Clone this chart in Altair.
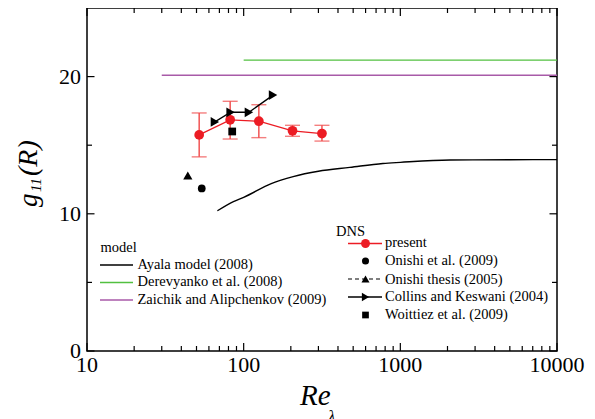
import altair as alt
import pandas as pd

FONT = "Liberation Serif"

# ---------------- data ----------------
ayala_re = [68, 86, 100, 150, 207, 300, 476, 774, 1000, 2075, 5000, 10000]
ayala_g = [10.22, 10.89, 11.2, 12.2, 12.71, 13.1, 13.38, 13.67, 13.75, 13.92, 13.94, 13.95]

dere_re = [100, 10000]
dere_g = [21.2, 21.2]

zaich_re = [30, 10000]
zaich_g = [20.1, 20.1]

present_re = [52, 82, 125, 205, 316]
present_g = [15.75, 16.85, 16.75, 16.05, 15.85]
present_hi = [17.35, 18.2, 17.95, 16.45, 16.45]
present_lo = [14.15, 15.45, 15.55, 15.65, 15.3]

onishi09_re = [54]
onishi09_g = [11.85]

onishi05_re = [44]
onishi05_g = [12.8]

collins_re = [65.5, 82.5, 108, 154]
collins_g = [16.7, 17.4, 17.4, 18.65]

woit_re = [84.5]
woit_g = [16.0]

x_major = [10, 100, 1000, 10000]
x_labels = ["10", "100", "1000", "10000"]
x_minor = [20, 30, 40, 50, 60, 70, 80, 90,
           200, 300, 400, 500, 600, 700, 800, 900,
           2000, 3000, 4000, 5000, 6000, 7000, 8000, 9000]
y_major = [0, 10, 20]
y_labels = ["0", "10", "20"]
y_minor = [5, 15]

# ---------------- chart ----------------
W, H = 470, 343
RED = "#ec1c24"
ERR = "#f04848"
GREEN = "#52c040"
PURPLE = "#a85aa8"

xs = alt.Scale(type="log", domain=[10, 10000], nice=False)
ys = alt.Scale(domain=[0, 25], nice=False, zero=False)


def df(x, y, **extra):
    d = {"re": x, "g": y}
    d.update(extra)
    return pd.DataFrame(d)


def X(field="re"):
    return alt.X(f"{field}:Q", scale=xs, axis=None)


def Y(field="g"):
    return alt.Y(f"{field}:Q", scale=ys, axis=None)


ayala = alt.Chart(df(ayala_re, ayala_g)).mark_line(
    color="black", strokeWidth=1.4, interpolate="monotone").encode(x=X(), y=Y())
dere = alt.Chart(df(dere_re, dere_g)).mark_line(color=GREEN, strokeWidth=1.4).encode(x=X(), y=Y())
zaich = alt.Chart(df(zaich_re, zaich_g)).mark_line(color=PURPLE, strokeWidth=1.6).encode(x=X(), y=Y())

pdf = df(present_re, present_g, hi=present_hi, lo=present_lo)
err = alt.Chart(pdf).mark_rule(color=ERR, strokeWidth=1.4).encode(x=X(), y=Y("lo"), y2="hi:Q")
cap_hi = alt.Chart(pdf).mark_tick(color=ERR, orient="horizontal", size=15, thickness=1.4).encode(
    x=X(), y=Y("hi"))
cap_lo = alt.Chart(pdf).mark_tick(color=ERR, orient="horizontal", size=15, thickness=1.4).encode(
    x=X(), y=Y("lo"))
pline = alt.Chart(pdf).mark_line(color=RED, strokeWidth=1.3).encode(x=X(), y=Y())
ppts = alt.Chart(pdf).mark_point(color=RED, filled=True, opacity=1, size=95, shape="circle").encode(
    x=X(), y=Y())

on09 = alt.Chart(df(onishi09_re, onishi09_g)).mark_point(
    color="black", filled=True, opacity=1, size=60, shape="circle").encode(x=X(), y=Y())
on05 = alt.Chart(df(onishi05_re, onishi05_g)).mark_point(
    color="black", filled=True, opacity=1, size=85, shape="triangle-up").encode(x=X(), y=Y())
cline = alt.Chart(df(collins_re, collins_g)).mark_line(color="black", strokeWidth=1.3).encode(
    x=X(), y=Y())
cpts = alt.Chart(df(collins_re, collins_g)).mark_point(
    color="black", filled=True, opacity=1, size=95, shape="triangle-right").encode(x=X(), y=Y())
woit = alt.Chart(df(woit_re, woit_g)).mark_point(
    color="black", filled=True, opacity=1, size=60, shape="square").encode(x=X(), y=Y())

# inward ticks on all four sides
tick_layers = []
for vals, ln in ((x_major, 8), (x_minor, 5)):
    d = pd.DataFrame({"re": vals})
    tick_layers.append(alt.Chart(d).mark_rule(color="black", strokeWidth=1.2).encode(
        x=X(), y=alt.value(H), y2=alt.value(H - ln)))
    tick_layers.append(alt.Chart(d).mark_rule(color="black", strokeWidth=1.2).encode(
        x=X(), y=alt.value(0), y2=alt.value(ln)))
for vals, ln in ((y_major, 7.5), (y_minor, 5)):
    d = pd.DataFrame({"g": vals})
    tick_layers.append(alt.Chart(d).mark_rule(color="black", strokeWidth=1.2).encode(
        y=Y(), x=alt.value(0), x2=alt.value(ln)))
    tick_layers.append(alt.Chart(d).mark_rule(color="black", strokeWidth=1.2).encode(
        y=Y(), x=alt.value(W), x2=alt.value(W - ln)))

# tick labels, placed through the scales
xlab = alt.Chart(pd.DataFrame({"re": x_major, "lab": x_labels})).mark_text(
    font=FONT, fontSize=22, color="black", align="center", baseline="top"
).encode(x=X(), y=alt.value(H + 4), text="lab:N")
ylab = alt.Chart(pd.DataFrame({"g": y_major, "lab": y_labels})).mark_text(
    font=FONT, fontSize=22, color="black", align="right", baseline="middle"
).encode(y=Y(), x=alt.value(-6), text="lab:N")


def text(s, x, y, size=14.5, style="normal", angle=0):
    return alt.Chart(pd.DataFrame({"t": [s]})).mark_text(
        font=FONT, fontSize=size, fontStyle=style, align="left", baseline="alphabetic",
        angle=angle, color="black"
    ).encode(text="t:N", x=alt.value(x), y=alt.value(y))


def hline(x1, x2, y, color, dash=None, width=1.4):
    kw = dict(color=color, strokeWidth=width)
    if dash:
        kw["strokeDash"] = dash
    return alt.Chart(pd.DataFrame({"t": [0]})).mark_rule(**kw).encode(
        x=alt.value(x1), x2=alt.value(x2), y=alt.value(y))


def marker(x, y, shape, size, color="black"):
    return alt.Chart(pd.DataFrame({"t": [0]})).mark_point(
        shape=shape, size=size, color=color, filled=True, opacity=1
    ).encode(x=alt.value(x), y=alt.value(y))


legend = [
    text("model", 13.5, 243.5),
    hline(13, 46, 257, "black"), text("Ayala model (2008)", 50.5, 260.5),
    hline(13, 46, 274.5, GREEN), text("Derevyanko et al. (2008)", 50.5, 278),
    hline(13, 46, 292, PURPLE), text("Zaichik and Alipchenkov (2009)", 50.5, 295.5),
    text("DNS", 249, 228),
    hline(261, 295, 235.5, RED, width=1.3), marker(278.5, 235.5, "circle", 80, RED),
    text("present", 298, 239),
    marker(278.5, 253, "circle", 50), text("Onishi et al. (2009)", 298, 257),
    hline(261, 295, 271, "black", dash=[4, 3], width=1.2), marker(278.5, 271, "triangle-up", 65),
    text("Onishi thesis (2005)", 298, 275.5),
    hline(261, 295, 289, "black", width=1.3), marker(278.5, 289, "triangle-right", 70),
    text("Collins and Keswani (2004)", 298, 293),
    marker(278.5, 307, "square", 45), text("Woittiez et al. (2009)", 298, 311),
]

titles = [
    text("Re", 213, 397, size=29, style="italic"),
    text("λ", 241, 414, size=17, style="italic"),
    text("g", -50, 199, size=27, style="italic", angle=270),
    text("11", -46, 184, size=15, style="italic", angle=270),
    text("(R)", -50, 168, size=28, style="italic", angle=270),
]

chart = alt.layer(
    ayala, dere, zaich, err, cap_hi, cap_lo, pline, ppts, on09, on05, cline, cpts, woit,
    *tick_layers, xlab, ylab, *legend, *titles
).properties(
    width=W, height=H,
    autosize=alt.AutoSizeParams(type="none"),
    padding={"left": 79, "top": 0, "right": 30, "bottom": 68},
).configure_view(stroke="black", strokeWidth=1.5)

chart.save("out.html", embed_options={"renderer": "svg", "actions": False})
